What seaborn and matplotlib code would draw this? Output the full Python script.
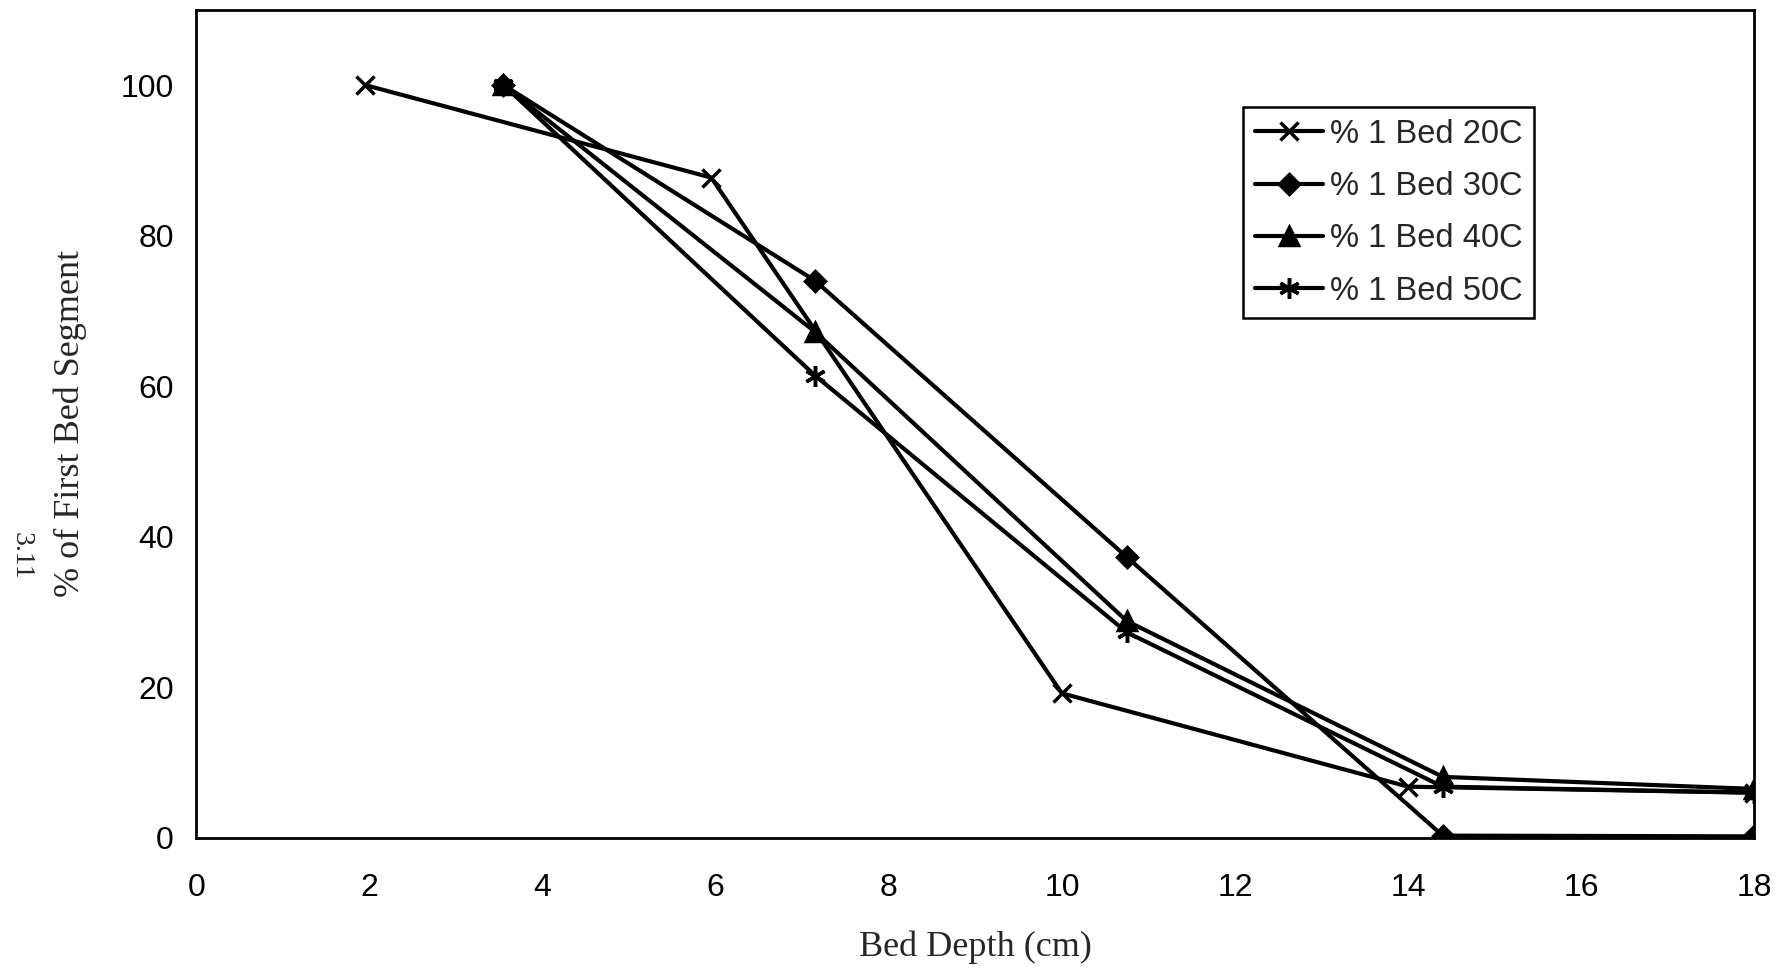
import numpy as np
import pandas as pd
import seaborn as sns
import matplotlib.pyplot as plt

# Dados
x_20 = [1.95, 5.95, 10.0, 14.0, 18.0]
y_20 = [100.0, 87.7, 19.2, 6.8, 6.0]

x_30 = [3.55, 7.15, 10.75, 14.4, 18.0]
y_30 = [100.0, 74.0, 37.3, 0.3, 0.2]

x_40 = [3.55, 7.15, 10.75, 14.4, 18.0]
y_40 = [100.0, 67.2, 28.8, 8.1, 6.5]

x_50 = [3.55, 7.15, 10.75, 14.4, 18.0]
y_50 = [100.0, 61.4, 27.3, 6.8, 6.0]

labels = ['% 1 Bed 20C', '% 1 Bed 30C', '% 1 Bed 40C', '% 1 Bed 50C']
x_ticks = [0, 2, 4, 6, 8, 10, 12, 14, 16, 18]
y_ticks = [0, 20, 40, 60, 80, 100]

sns.set_style('white')
plt.rcParams['font.family'] = ['Liberation Sans', 'DejaVu Sans']

fig = plt.figure(figsize=(17.83, 9.72), dpi=100)
ax = fig.add_axes([0.110, 0.138, 0.874, 0.852])

series = [
    (x_20, y_20, 'x', 13, 2.5),
    (x_30, y_30, 'D', 10, 2.5),
    (x_40, y_40, '^', 13, 2.5),
    (x_50, y_50, (6, 2, 0), 15, 2.5),
]
for (xs, ys, mk, ms, mew), lab in zip(series, labels):
    sns.lineplot(x=xs, y=ys, ax=ax, color='black', linewidth=3, marker=mk,
                 markersize=ms, markeredgewidth=mew, markeredgecolor='black',
                 markerfacecolor='black', label=lab, sort=False)

ax.set_xlim(0, 18)
ax.set_ylim(0, 110)
ax.set_xticks(x_ticks)
ax.set_yticks(y_ticks)
ax.tick_params(axis='both', direction='inout', length=14, width=1.5,
               colors='black', labelsize=23)
ax.tick_params(axis='x', pad=18)
ax.tick_params(axis='y', pad=9)
for s in ax.spines.values():
    s.set_color('black')
    s.set_linewidth(2)

ax.set_xlabel('Bed Depth (cm)', family='Liberation Serif', fontsize=26, labelpad=20)
ax.set_ylabel('% of First Bed Segment', family='Liberation Serif', fontsize=26, labelpad=24)
fig.text(0.012, 0.428, '3.11', family='Liberation Serif', fontsize=20,
         rotation=270, ha='center', va='center')

leg = ax.legend(loc='upper left', bbox_to_anchor=(0.672, 0.882), fontsize=23.5,
                frameon=True, fancybox=False, edgecolor='black', framealpha=1,
                handlelength=2.1, handletextpad=0.2, borderpad=0.35,
                labelspacing=0.65, borderaxespad=0)
leg.get_frame().set_linewidth(1.8)

fig.savefig('out.png', dpi=100)
